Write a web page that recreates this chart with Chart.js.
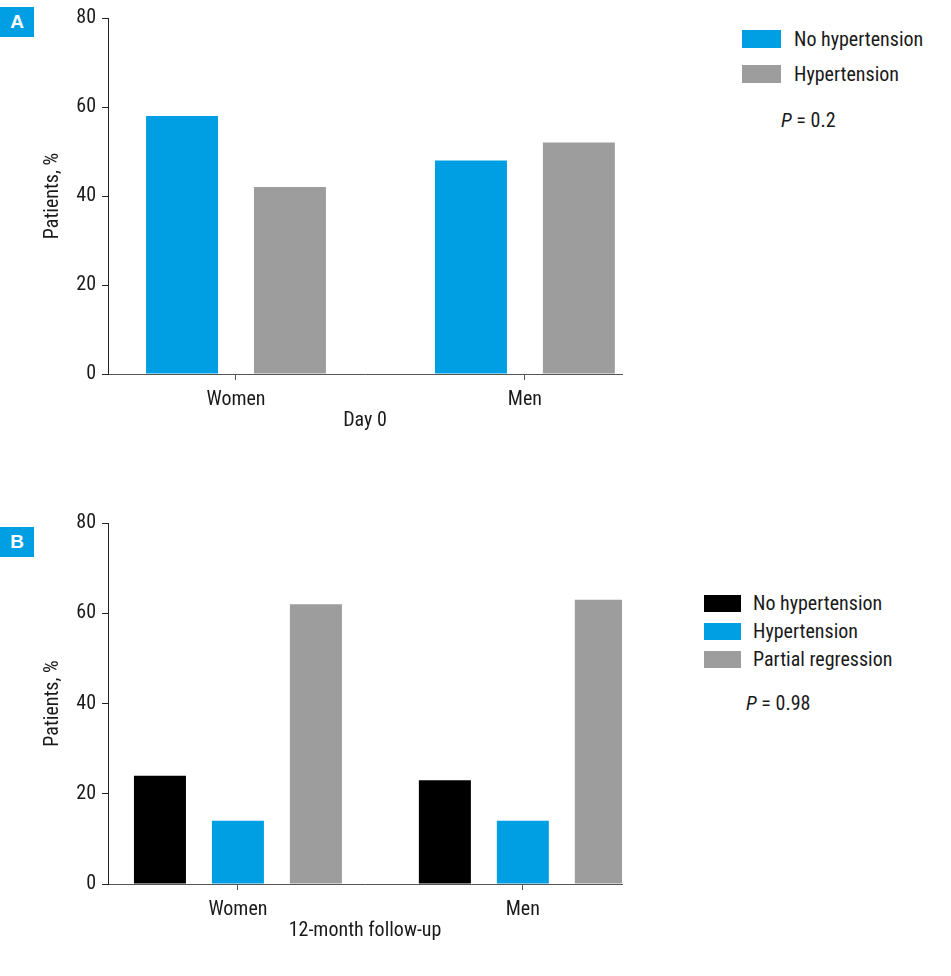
<!DOCTYPE html>
<html>
<head>
<meta charset="utf-8">
<script src="https://cdn.jsdelivr.net/npm/chart.js@4.4.1/dist/chart.umd.min.js"></script>
<style>
  body { margin: 0; background: #fff; width: 951px; height: 976px; position: relative; overflow: hidden;
         font-family: "Liberation Sans Narrow", "Roboto Condensed", "Arial Narrow", Roboto, sans-serif; color: #1a1a1a; }
  .panel { position: absolute; left: 0; }
  .badge { position: absolute; left: 0; width: 34px; height: 30px; background: #009FE3; color: #fff;
           font: bold 19px "Liberation Sans", Arial, sans-serif; text-align: center; line-height: 30px; }
  .leg { position: absolute; font-size: 20px; line-height: 24px; white-space: nowrap; }
  .leg .box { position: absolute; left: 0; }
  .leg .txt { position: absolute; }
  .pval { position: absolute; font-size: 20px; line-height: 24px; white-space: nowrap; }
</style>
</head>
<body>
<div class="badge" style="top:7px">A</div>
<div class="panel" style="top:0; width:624px; height:440px"><canvas id="chartA"></canvas></div>
<div class="leg" id="legA" style="left:742px; top:0"></div>
<div class="pval" style="left:781px; top:108px"><i>P</i>&nbsp;=&nbsp;0.2</div>

<div class="badge" style="top:527px">B</div>
<div class="panel" style="top:500px; width:624px; height:450px"><canvas id="chartB"></canvas></div>
<div class="leg" id="legB" style="left:704px; top:0"></div>
<div class="pval" style="left:746px; top:691px"><i>P</i>&nbsp;=&nbsp;0.98</div>

<script>
// data
const groups = ['Women', 'Men'];
const yTicks = [0, 20, 40, 60, 80];

const day0Labels = ['No hypertension', 'Hypertension'];
const day0NoHyp = [58, 48];
const day0Hyp = [42, 52];

const fuLabels = ['No hypertension', 'Hypertension', 'Partial regression'];
const fuNoHyp = [24, 23];
const fuHyp = [14, 14];
const fuPartial = [62, 63];

const BLUE = '#009FE3';
const GREY = '#9D9D9D';
const BLACK = '#000000';
const FONT = '"Liberation Sans Narrow", "Roboto Condensed", "Arial Narrow", Roboto, sans-serif';

const toPoints = vals => vals.map((v, i) => ({ x: i, y: v }));

function makeChart(id, labels, series, colors, o) {
    const datasets = series.map((vals, i) => ({
        label: labels[i],
        data: toPoints(vals),
        backgroundColor: colors[i],
        categoryPercentage: o.catPct,
        barPercentage: o.barPct
    }));
    return new Chart(document.getElementById(id), {
        type: 'bar',
        data: { datasets },
        options: {
            responsive: true,
            maintainAspectRatio: false,
            animation: false,
            layout: { padding: { top: o.padTop, right: 2, bottom: 0, left: 0 } },
            plugins: { legend: { display: false }, tooltip: { enabled: false } },
            scales: {
                x: {
                    type: 'linear',
                    offset: false,
                    min: o.xMin,
                    max: o.xMax,
                    afterBuildTicks: s => { s.ticks = groups.map((g, i) => ({ value: i })); },
                    afterFit: s => { s.height = 66; },
                    ticks: { callback: v => groups[v], color: '#1a1a1a', padding: 8, font: { family: FONT, size: 20 } },
                    grid: { display: true, offset: false, drawOnChartArea: false, drawTicks: true, tickLength: 6, color: '#555' },
                    border: { color: '#555', width: 1 },
                    title: { display: true, text: o.xTitle, color: '#1a1a1a', padding: { top: 0, bottom: 7 },
                             font: { family: FONT, size: 20 } }
                },
                y: {
                    min: 0,
                    max: 80,
                    afterBuildTicks: s => { s.ticks = yTicks.map(v => ({ value: v })); },
                    afterFit: s => { s.width = 108; },
                    ticks: { color: '#1a1a1a', padding: 6, font: { family: FONT, size: 20 } },
                    grid: { display: true, drawOnChartArea: false, drawTicks: true, tickLength: 6, color: '#222' },
                    border: { color: '#222', width: 1 },
                    title: { display: true, text: 'Patients, %', color: '#1a1a1a', padding: { top: 41, bottom: 0 },
                             font: { family: FONT, size: 20 } }
                }
            }
        }
    });
}

function makeLegend(id, labels, colors, top, pitch, bw, bh, gap) {
    const el = document.getElementById(id);
    labels.forEach((lab, i) => {
        const cy = top + i * pitch;
        const box = document.createElement('div');
        box.className = 'box';
        box.style.cssText = `top:${cy - bh / 2}px;width:${bw}px;height:${bh}px;background:${colors[i]}`;
        const txt = document.createElement('div');
        txt.className = 'txt';
        txt.style.cssText = `top:${cy - 12}px;left:${bw + gap}px`;
        txt.textContent = lab;
        el.appendChild(box);
        el.appendChild(txt);
    });
}

// Panel A - Day 0
makeChart('chartA', day0Labels, [day0NoHyp, day0Hyp], [BLUE, GREY],
    { xMin: -0.443, xMax: 1.336, catPct: 0.747, barPct: 0.667, padTop: 14, xTitle: 'Day 0' });
makeLegend('legA', day0Labels, [BLUE, GREY], 39, 35, 39, 18, 13);

// Panel B - 12-month follow-up
makeChart('chartB', fuLabels, [fuNoHyp, fuHyp, fuPartial], [BLACK, BLUE, GREY],
    { xMin: -0.456, xMax: 1.348, catPct: 0.821, barPct: 0.667, padTop: 23, xTitle: '12-month follow-up' });
makeLegend('legB', fuLabels, [BLACK, BLUE, GREY], 603, 28, 37, 17, 12);
</script>
</body>
</html>
